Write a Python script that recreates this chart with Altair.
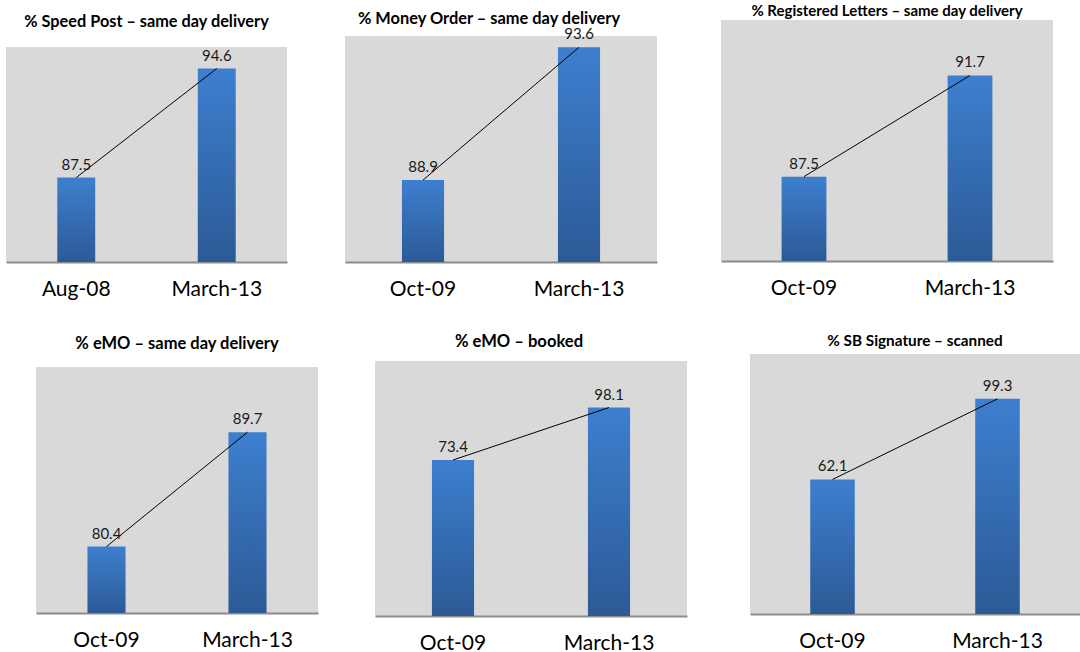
import altair as alt
import pandas as pd

# ---- data ----
titles = [
    "% Speed Post – same day delivery",
    "% Money Order – same day delivery",
    "% Registered Letters – same day delivery",
    "% eMO – same day delivery",
    "%  eMO – booked",
    "% SB Signature – scanned",
]
periods = [
    ["Aug-08", "March-13"],
    ["Oct-09", "March-13"],
    ["Oct-09", "March-13"],
    ["Oct-09", "March-13"],
    ["Oct-09", "March-13"],
    ["Oct-09", "March-13"],
]
values = [
    [87.5, 94.6],
    [88.9, 93.6],
    [87.5, 91.7],
    [80.4, 89.7],
    [73.4, 98.1],
    [62.1, 99.3],
]
y_domains = [[82, 96], [86, 94], [84, 94], [75, 95], [0, 120], [0, 120]]

# ---- layout / style ----
widths = [281, 312, 332, 282, 312, 330]
heights = [215, 226, 241, 246, 255, 260]
title_sizes = [16.3, 16.4, 15, 16.5, 16.6, 15.3]
title_offsets = [17, 0, 1, 15, 10, 5]
title_dx = [0, -12, 0, 0, -12, 0]
top_gaps = [10, 7, 1, 3, 2, 1]

FONT = "Lato"
GRAD = alt.Gradient(
    gradient="linear",
    stops=[
        alt.GradientStop(color="#3d7fcf", offset=0),
        alt.GradientStop(color="#2c5a96", offset=1),
    ],
    x1=0, x2=0, y1=0, y2=1,
)


def panel(i):
    df = pd.DataFrame({"period": periods[i], "value": values[i]})
    base = alt.Chart(df).encode(
        x=alt.X(
            "period:N",
            sort=periods[i],
            title=None,
            scale=alt.Scale(paddingInner=0.73, paddingOuter=0.365),
            axis=alt.Axis(
                labelAngle=0, labelFont=FONT, labelFontSize=21, labelColor="#000000",
                labelPadding=16, ticks=False, tickSize=0, domainColor="#8c8c8c",
                domainWidth=2, grid=False,
            ),
        ),
        y=alt.Y(
            "value:Q",
            scale=alt.Scale(domain=y_domains[i], zero=False, nice=False, clamp=True),
            axis=None,
        ),
    )
    bars = base.mark_bar(color=GRAD)
    line = base.mark_line(color="black", strokeWidth=1)
    text = base.mark_text(
        font=FONT, fontSize=15, color="#1a1a1a", baseline="middle", dy=-13
    ).encode(text=alt.Text("value:Q", format=".1f"))
    return alt.layer(bars, line, text).properties(
        width=widths[i],
        height=heights[i],
        view=alt.ViewBackground(fill="#d9d9d9"),
        title=alt.Title(
            titles[i], font=FONT, fontSize=title_sizes[i], fontWeight="bold",
            color="#000000", anchor="middle", frame="group",
            offset=title_offsets[i], dx=title_dx[i],
        ),
    )


def spacer(w, h):
    return (
        alt.Chart(pd.DataFrame({"s": [0]}))
        .mark_point(opacity=0, size=0, strokeWidth=0)
        .properties(width=w, height=h)
    )


def wrap(i):
    # an invisible spacer first, so that the cell's origin is its top edge
    return alt.vconcat(spacer(1, top_gaps[i]), panel(i), spacing=0)


row1 = alt.hconcat(
    alt.hconcat(wrap(0), wrap(1), spacing=58),
    wrap(2),
    spacing=64,
)
row2 = alt.hconcat(
    spacer(1, 1),
    alt.hconcat(alt.hconcat(wrap(3), wrap(4), spacing=57), wrap(5), spacing=63),
    spacing=29,
)

chart = (
    alt.vconcat(row1, row2, spacing=33)
    .properties(padding={"left": 6, "top": 3, "right": 0, "bottom": 0}, background="white")
    .configure_view(strokeWidth=0)
)

chart.save("out.html", embed_options={"renderer": "svg", "actions": False})
